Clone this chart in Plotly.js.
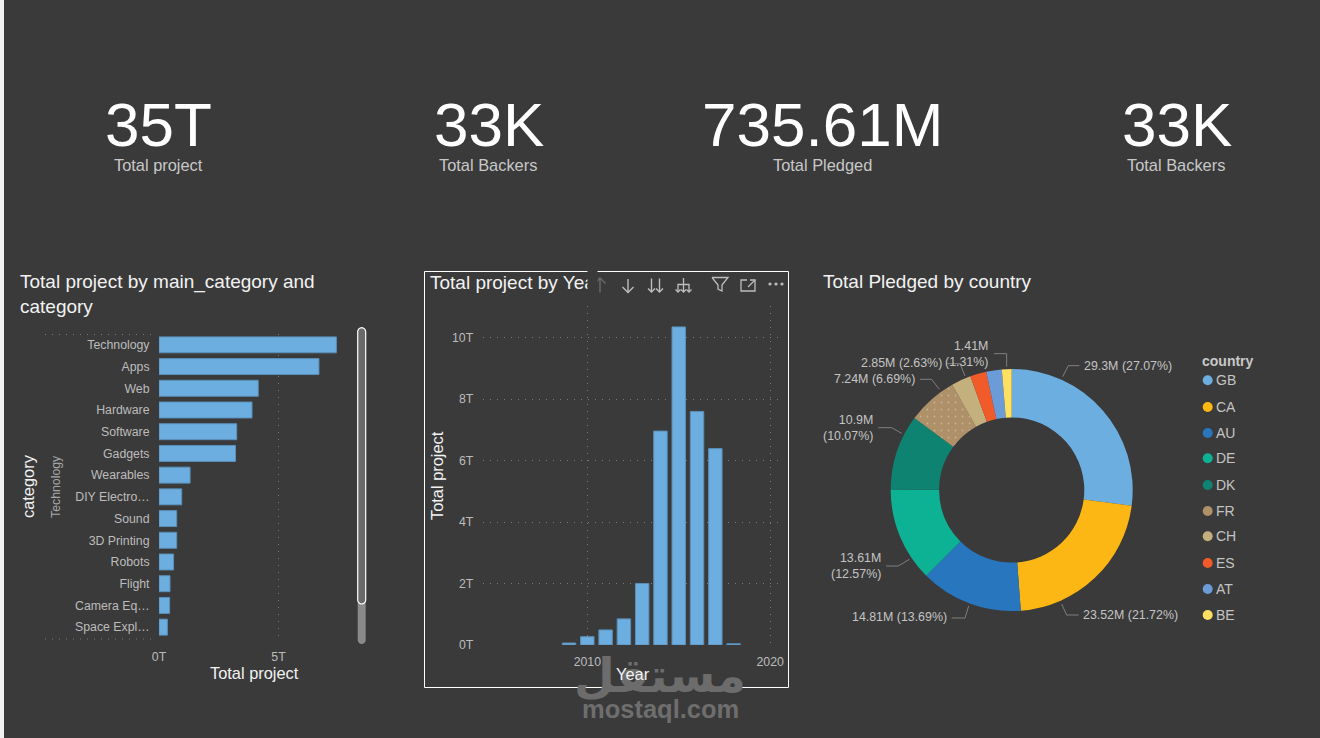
<!DOCTYPE html>
<html><head><meta charset="utf-8">
<script src="https://cdn.plot.ly/plotly-3.0.1.min.js"></script>
<style>html,body{margin:0;padding:0;background:#3a3a3a;overflow:hidden}#c{width:1320px;height:738px}</style>
</head><body><div id="c"></div>
<script>
const kpiValues = ["35T","33K","735.61M","33K"];
const kpiLabels = ["Total project","Total Backers","Total Pledged","Total Backers"];
const categories = ["Technology","Apps","Web","Hardware","Software","Gadgets","Wearables","DIY Electro…","Sound","3D Printing","Robots","Flight","Camera Eq…","Space Expl…"];
const categoryProjects = [7.42,6.69,4.15,3.89,3.25,3.2,1.3,0.95,0.74,0.74,0.61,0.46,0.445,0.35];
const years = [2009,2010,2011,2012,2013,2014,2015,2016,2017,2018];
const yearProjects = [0.065,0.27,0.49,0.85,2.0,6.96,10.35,7.6,6.39,0.04];
const countries = ["GB","CA","AU","DE","DK","FR","CH","ES","AT","BE"];
const pledged = [29.3,23.52,14.81,13.61,10.9,7.24,2.85,2.35,2.25,1.41];
const countryColors = ["#6CAEE0","#FDB714","#2877BE","#0DB295","#0E8371","#AE9069","#C4B07D","#F15A29","#6B9CD8","#FDDF62"];
const pieLabels = {GB:"29.3M (27.07%)",CA:"23.52M (21.72%)",AU:"14.81M (13.69%)",DE:"13.61M<br>(12.57%)",DK:"10.9M<br>(10.07%)",FR:"7.24M (6.69%)",CH:"2.85M (2.63%)",BE:"1.41M<br>(1.31%)"};

const W=1320,H=738,BG="#3a3a3a",F="Liberation Sans, Arial, sans-serif";
const fx=x=>x/W, fy=y=>1-y/H;
const ann=[],shp=[];
function T(text,x,y,size,color,o={}){ann.push(Object.assign({text,x:fx(x),y:fy(y),xref:"paper",yref:"paper",showarrow:false,xanchor:"center",yanchor:"middle",borderpad:0,font:{family:F,size,color}},o));}
function P(pts,color,w=1,o={}){const d=pts.map((p,i)=>(i?"L":"M")+fx(p[0])+" "+fy(p[1])).join(" ");shp.push(Object.assign({type:"path",xref:"paper",yref:"paper",path:d,line:{color,width:w}},o));}
function R(x0,y0,x1,y1,fill,lc,lw=1,type="rect"){shp.push({type,xref:"paper",yref:"paper",x0:fx(x0),x1:fx(x1),y0:fy(y0),y1:fy(y1),fillcolor:fill,line:{color:lc||"rgba(0,0,0,0)",width:lc?lw:0}});}
function RR(x0,y0,x1,y1,r,fill,lc,lw){const s=[];for(let a=0;a<=8;a++){const t=Math.PI+a/8*Math.PI;s.push([(x0+x1)/2+r*Math.cos(t),y0+r+r*Math.sin(t)]);}
 for(let a=0;a<=8;a++){const t=a/8*Math.PI;s.push([(x0+x1)/2+r*Math.cos(t),y1-r+r*Math.sin(t)]);}
 const d=s.map((p,i)=>(i?"L":"M")+fx(p[0])+" "+fy(p[1])).join(" ")+" Z";
 shp.push({type:"path",xref:"paper",yref:"paper",path:d,fillcolor:fill,line:{color:lc||"rgba(0,0,0,0)",width:lc?lw:0}});}

// watermark sits under the other texts
T("مستقل",660,675,47,"#6c6c6c",{font:{family:"DejaVu Sans",size:47,color:"#6c6c6c",weight:700}});
T("mostaql.com",660,709,25.5,"#6e6e6e",{font:{family:F,size:25.5,color:"#6e6e6e",weight:700}});

// page edge
R(0,0,4,H,"#f2f2f2");
// KPI cards
const kpiX=[158.5,488.5,822.5,1176.5];
kpiValues.forEach((v,i)=>{T(v,kpiX[i],124,62,"#ffffff");T(kpiLabels[i],kpiX[i]-0.5,165,16.4,"#c8c8c8");});

// panel titles
T("Total project by main_category and<br>category",18.5,293.5,19,"#f2f2f2",{xanchor:"left",align:"left"});
T("Total project by Yea",428.5,282,19,"#f2f2f2",{xanchor:"left"});
T(" ",587,282,10,BG,{xanchor:"left",width:8.5,height:22,bgcolor:BG});
T("Total Pledged by country",821.5,281.5,19,"#f2f2f2",{xanchor:"left"});

// bar panel decorations
const dot="rgba(165,165,165,0.6)", dd="1px,6px";
P([[45,334.5],[155,334.5]],dot,1,{line:{color:dot,width:1,dash:dd}});
P([[45,639],[155,639]],dot,1,{line:{color:dot,width:1,dash:dd}});
T("category",28,486,16.4,"#f2f2f2",{textangle:-90});
T("Technology",56,487,12.3,"#a8a8a8",{textangle:-90});
T("Total project",254,673,16.4,"#f2f2f2");
RR(357.7,600,365.7,644,4,"#8a8a8a");
RR(357.7,327.7,365.7,604,4,"#6a6a6a","#ffffff",1.2);

// year panel decorations
R(424.5,271.5,788.5,687.5,"rgba(0,0,0,0)","#ffffff",1);
T("Total project",437,476,16.4,"#f2f2f2",{textangle:-90});
T("Year",633,674,16.4,"#f2f2f2");
const ic="#bdbdbd";
P([[600,292.5],[600,278]],"#6b6b6b",1.4);P([[595.5,283],[600,278],[605.5,283.5]],"#6b6b6b",1.4);
P([[628,279],[628,292.5]],ic,1.4);P([[622.5,287],[628,292.5],[633.5,287]],ic,1.4);
[651.5,659.5].forEach(x=>{P([[x,278.5],[x,292]],ic,1.4);P([[x-3.5,288.5],[x,292],[x+3.5,288.5]],ic,1.4);});
P([[683.5,278],[683.5,284]],ic,1.3);P([[678,292],[678,284.5],[689,284.5],[689,292]],ic,1.3);
P([[683.5,284.5],[683.5,292]],ic,1.3);P([[675.5,289.5],[678,292],[680.5,289.5]],ic,1.3);P([[681,289.5],[683.5,292],[686,289.5]],ic,1.3);P([[686.5,289.5],[689,292],[691.5,289.5]],ic,1.3);
P([[712,277.5],[728,277.5],[722,285],[722,291],[718,289],[718,285],[712,277.5]],ic,1.3);
P([[747,280],[741,280],[741,291],[755,291],[755,285]],ic,1.3);P([[748,287],[755,280]],ic,1.3);P([[750,280],[755,280],[755,285]],ic,1.3);
[770,776,782].forEach(x=>R(x-1.6,282.4,x+1.6,285.6,ic,null,0,"circle"));

// donut leader lines and labels
const zx=x=>810+x/3, zy=y=>330+y/3;
const leaders={GB:[[758,140],[775,107],[808,107]],CA:[[755,822],[770,855],[806,855]],AU:[[476,828],[465,864],[425,864]],DE:[[298,688],[265,708],[228,708]],DK:[[275,310],[245,293],[205,293]],FR:[[388,178],[365,148],[330,148]],CH:[[465,138],[450,101],[412,101]],BE:[[590,110],[590,71],[552,71]]};
const labelPos={GB:[819,107,"left"],CA:[817,855,"left"],AU:[414,862,"right"],DE:[216,707,"right"],DK:[192,293,"right"],FR:[318,146,"right"],CH:[398,100,"right"],BE:[538,71,"right"]};
Object.keys(pieLabels).forEach(k=>{P(leaders[k].map(p=>[zx(p[0]),zy(p[1])]),"#7f7f7f",1);
 const q=labelPos[k];T(pieLabels[k],zx(q[0]),zy(q[1]),12.4,"#c4c4c4",{xanchor:q[2],align:q[2]});});

// legend
const legendY=[380.3,407,433,458.3,485,511,536.3,563,589,615];
T("country",1201,361,14,"#c8c8c8",{xanchor:"left",font:{family:F,size:14,color:"#c8c8c8",weight:700}});
countries.forEach((c,i)=>{R(1202.7,legendY[i]-5,1212.7,legendY[i]+5,countryColors[i],null,0,"circle");T(c,1214.5,legendY[i],14,"#c4c4c4",{xanchor:"left"});});

const tickFont={family:F,size:12.3,color:"#bcbcbc"};
const barStyle={color:"#6CAEE0",line:{color:"#5a8fb8",width:1}};
const traces=[
 {type:"bar",orientation:"h",x:categoryProjects,y:categories,xaxis:"x",yaxis:"y",marker:barStyle,hoverinfo:"skip"},
 {type:"bar",x:years,y:yearProjects,xaxis:"x2",yaxis:"y2",marker:barStyle,hoverinfo:"skip"},
 {type:"pie",labels:countries,values:pledged,sort:false,direction:"clockwise",rotation:0,hole:0.6,textinfo:"none",hoverinfo:"skip",showlegend:false,
  domain:{x:[fx(890.7),fx(1132.7)],y:[fy(611),fy(369)]},
  marker:{colors:countryColors,line:{width:0},pattern:{shape:["","","","","",".","","","",""],size:7,solidity:0.05,fgcolor:"#c9b596",bgcolor:countryColors}}}
];
const layout={width:W,height:H,margin:{l:0,r:0,t:0,b:0},paper_bgcolor:BG,plot_bgcolor:"rgba(0,0,0,0)",showlegend:false,bargap:0.265,font:{family:F},
 xaxis:{domain:[fx(159),fx(345)],range:[0,7.78],anchor:"y",tickvals:[0,5],ticktext:["0T","5T"],tickfont:tickFont,showgrid:true,gridcolor:dot,griddash:dd,zeroline:false,showline:false,ticks:"outside",ticklen:7,tickcolor:"rgba(0,0,0,0)"},
 yaxis:{domain:[fy(638),fy(334)],type:"category",categoryorder:"array",categoryarray:categories,range:[13.5,-0.5],anchor:"x",tickfont:tickFont,showgrid:false,zeroline:false,showline:false,ticks:"outside",ticklen:6,tickcolor:"rgba(0,0,0,0)"},
 xaxis2:{domain:[fx(482.7),fx(783)],range:[2004.28,2020.7],anchor:"y2",tickvals:[2010,2020],tickfont:tickFont,showgrid:true,gridcolor:dot,griddash:dd,zeroline:false,showline:false,ticks:"outside",ticklen:5,tickcolor:"rgba(0,0,0,0)"},
 yaxis2:{domain:[fy(645),fy(306)],range:[0,11.03],anchor:"x2",tickvals:[0,2,4,6,8,10],ticktext:["0T","2T","4T","6T","8T","10T"],tickfont:tickFont,showgrid:true,gridcolor:dot,griddash:dd,zeroline:false,showline:false,ticks:"outside",ticklen:6,tickcolor:"rgba(0,0,0,0)"},
 annotations:ann,shapes:shp};
Plotly.newPlot("c",traces,layout,{displayModeBar:false,staticPlot:true});
</script></body></html>
